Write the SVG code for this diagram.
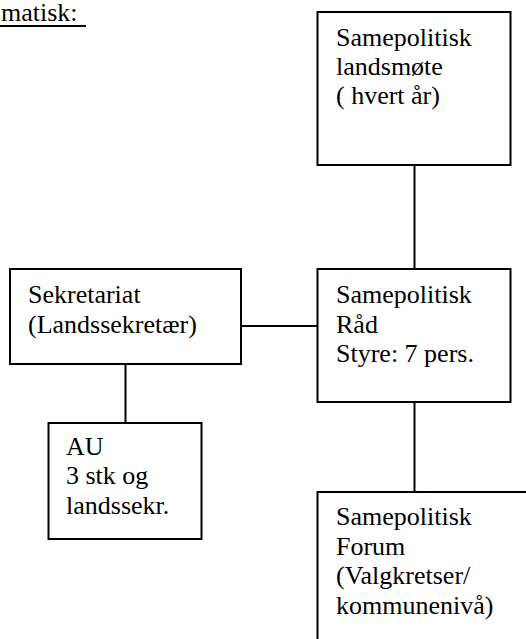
<svg xmlns="http://www.w3.org/2000/svg" width="526" height="639" viewBox="0 0 526 639">
<style>
.box{fill:#fff;stroke:#000;stroke-width:2}
.ln{stroke:#000;stroke-width:2;fill:none}
</style>
<rect width="526" height="639" fill="#fff"/>
<g font-family="Times New Roman, Liberation Serif, Tinos, DejaVu Serif, serif" font-size="26" fill="#000">
<g id="title">
<text x="1" y="21">matisk:</text>
<line x1="0" y1="26" x2="86" y2="26" class="ln"/>
</g>
<g id="connectors">
<line class="ln" x1="414.5" y1="165" x2="414.5" y2="269"/>
<line class="ln" x1="241" y1="326" x2="317" y2="326"/>
<line class="ln" x1="125.5" y1="364" x2="125.5" y2="423"/>
<line class="ln" x1="414.5" y1="402" x2="414.5" y2="492"/>
</g>
<g id="landsmote">
<rect class="box" x="317.5" y="12" width="193" height="153"/>
<text x="336" y="45.5">Samepolitisk</text>
<text x="336" y="75">landsmøte</text>
<text x="336" y="103.5">( hvert år)</text>
</g>
<g id="sekretariat">
<rect class="box" x="10" y="269" width="231" height="95"/>
<text x="28" y="303">Sekretariat</text>
<text x="28" y="332.5">(Landssekretær)</text>
</g>
<g id="raad">
<rect class="box" x="317.5" y="269" width="193" height="133"/>
<text x="336" y="303">Samepolitisk</text>
<text x="336" y="332.5">Råd</text>
<text x="336" y="362">Styre: 7 pers.</text>
</g>
<g id="au">
<rect class="box" x="48.5" y="423" width="153" height="116"/>
<text x="66" y="455">AU</text>
<text x="66" y="484">3 stk og</text>
<text x="66" y="513.5">landssekr.</text>
</g>
<g id="forum">
<path class="ln" d="M317.5 650 V492 H530"/>
<text x="336" y="525">Samepolitisk</text>
<text x="336" y="554.5">Forum</text>
<text x="336" y="584">(Valgkretser/</text>
<text x="336" y="613.5">kommunenivå)</text>
</g>
</g>
</svg>
